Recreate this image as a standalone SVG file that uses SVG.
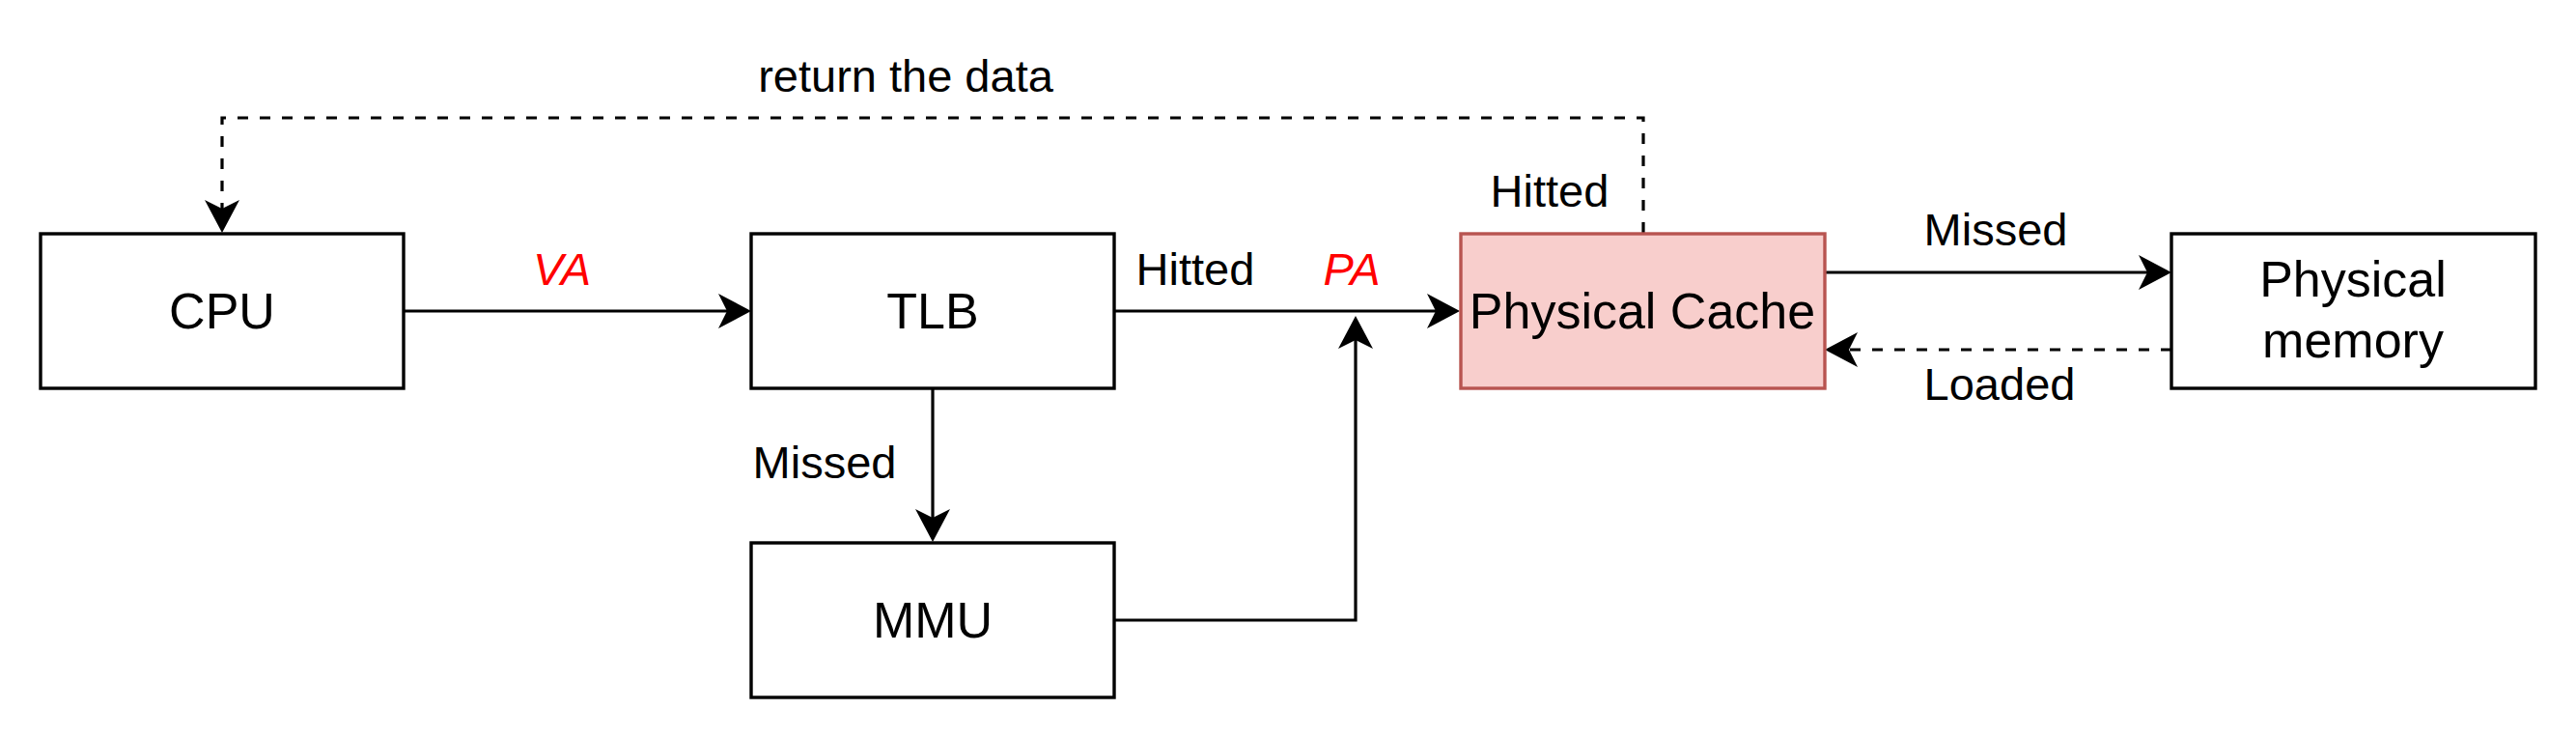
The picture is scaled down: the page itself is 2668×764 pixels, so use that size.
<svg xmlns="http://www.w3.org/2000/svg" width="2668" height="764" viewBox="0 0 2668 764">
<style>
.box{fill:#ffffff;stroke:#000000;stroke-width:3.4}
.cache{fill:#f8cecc;stroke:#b85450;stroke-width:3.4}
.edge{fill:none;stroke:#000000;stroke-width:3.2}
.dash{stroke-dasharray:11 12}
.nt{font-family:"Liberation Sans",Arial,sans-serif;font-size:52px;fill:#000000;text-anchor:middle}
.lt{font-family:"Liberation Sans",Arial,sans-serif;font-size:47px;fill:#000000;text-anchor:middle}
.red{fill:#ff0000;font-style:italic}
</style>
<defs>
<marker id="arr" markerUnits="userSpaceOnUse" viewBox="0 0 34 36" markerWidth="34" markerHeight="36" refX="9" refY="18" orient="auto">
<path d="M0,0 L34,18 L0,36 L9,18 Z" fill="#000000"/>
</marker>
</defs>
<rect width="2668" height="764" fill="#ffffff"/>
<g id="connectors">
<path class="edge" d="M418,322 H753" marker-end="url(#arr)"/>
<path class="edge" d="M1154,322 H1487" marker-end="url(#arr)"/>
<path class="edge" d="M1154,642 H1404 V352" marker-end="url(#arr)"/>
<path class="edge" d="M966,402 V536" marker-end="url(#arr)"/>
<path class="edge" d="M1890,282 H2224" marker-end="url(#arr)"/>
<path class="edge dash" d="M2249,362 H1915" marker-end="url(#arr)"/>
<path class="edge dash" d="M1702,241 V122 H230 V216" marker-end="url(#arr)"/>
<text class="lt" x="938" y="95">return the data</text>
<text class="lt red" x="582" y="295">VA</text>
<text class="lt" x="1238" y="295">Hitted</text>
<text class="lt red" x="1400" y="295">PA</text>
<text class="lt" x="854" y="495">Missed</text>
<text class="lt" x="1605" y="214">Hitted</text>
<text class="lt" x="2067" y="254">Missed</text>
<text class="lt" x="2071" y="414">Loaded</text>
</g>
<g id="cpu">
<rect class="box" x="42" y="242" width="376" height="160"/>
<text class="nt" x="230" y="340">CPU</text>
</g>
<g id="tlb">
<rect class="box" x="778" y="242" width="376" height="160"/>
<text class="nt" x="966" y="340">TLB</text>
</g>
<g id="mmu">
<rect class="box" x="778" y="562" width="376" height="160"/>
<text class="nt" x="966" y="660">MMU</text>
</g>
<g id="cache">
<rect class="cache" x="1513" y="242" width="377" height="160"/>
<text class="nt" x="1701" y="340">Physical Cache</text>
</g>
<g id="memory">
<rect class="box" x="2249" y="242" width="377" height="160"/>
<text class="nt" x="2437" y="307">Physical</text>
<text class="nt" x="2437" y="370">memory</text>
</g>
</svg>
